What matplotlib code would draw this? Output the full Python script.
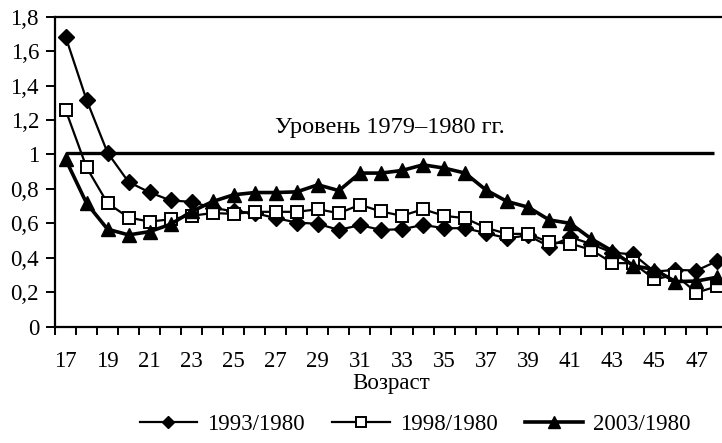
import matplotlib
matplotlib.use("Agg")
import matplotlib.pyplot as plt
from matplotlib.ticker import FuncFormatter, FixedLocator

ages = list(range(17, 49))
s1993 = [1.685, 1.317, 1.01, 0.84, 0.78, 0.733, 0.725, 0.69, 0.67, 0.66, 0.63, 0.605,
         0.597, 0.562, 0.59, 0.562, 0.566, 0.591, 0.572, 0.572, 0.543, 0.514, 0.53, 0.465,
         0.52, 0.48, 0.43, 0.42, 0.32, 0.33, 0.326, 0.382]
s1998 = [1.26, 0.925, 0.717, 0.634, 0.61, 0.624, 0.644, 0.66, 0.655, 0.667, 0.667, 0.667,
         0.682, 0.659, 0.708, 0.669, 0.644, 0.682, 0.644, 0.63, 0.574, 0.539, 0.539, 0.49,
         0.483, 0.446, 0.37, 0.368, 0.276, 0.30, 0.198, 0.235]
s2003 = [0.973, 0.717, 0.566, 0.533, 0.552, 0.595, 0.669, 0.727, 0.766, 0.779, 0.779, 0.783,
         0.824, 0.79, 0.892, 0.892, 0.907, 0.94, 0.921, 0.892, 0.793, 0.727, 0.694, 0.62,
         0.6, 0.51, 0.44, 0.354, 0.332, 0.262, 0.265, 0.288]
series_labels = ["1993/1980", "1998/1980", "2003/1980"]
level_value = 1.01
level_text = "Уровень 1979–1980 гг."
xlabel = "Возраст"
tick_ages = list(range(17, 48, 2))
yticks = [0, 0.2, 0.4, 0.6, 0.8, 1.0, 1.2, 1.4, 1.6, 1.8]

plt.rcParams['font.family'] = ['Liberation Serif', 'DejaVu Serif']
FS = 16.5

W, H = 722, 443
fig = plt.figure(figsize=(W / 100, H / 100), dpi=100)
left = 55 / W
right = 728 / W
bottom = (H - 326.7) / H
top = (H - 16.7) / H
ax = fig.add_axes([left, bottom, right - left, top - bottom])

ax.set_xlim(16.5, 48.5)
ax.set_ylim(0, 1.8)

# level line
ax.plot([17, 47.85], [level_value, level_value], color='black', lw=2.4, solid_capstyle='butt', zorder=2)
ax.text(32.4, 1.155, level_text, ha='center', va='center', fontsize=17.5)

l1, = ax.plot(ages, s1993, color='black', lw=1.6, marker='D', ms=8, mfc='black', mec='black', zorder=3)
l2, = ax.plot(ages, s1998, color='black', lw=1.6, marker='s', ms=9, mfc='white', mec='black', mew=1.4, zorder=4)
l3, = ax.plot(ages, s2003, color='black', lw=2.6, marker='^', ms=10, mfc='black', mec='black', zorder=5)

ax.spines['right'].set_visible(False)
for s in ['left', 'bottom', 'top']:
    ax.spines[s].set_linewidth(1.6)

ax.set_yticks(yticks)
ax.yaxis.set_major_formatter(FuncFormatter(lambda v, p: ('%g' % round(v, 1)).replace('.', ',')))
ax.tick_params(axis='y', direction='out', length=6.5, width=1.4, labelsize=FS, pad=5)

ax.xaxis.set_major_locator(FixedLocator([a + 0.5 for a in range(16, 49)]))
ax.xaxis.set_major_formatter(FuncFormatter(lambda v, p: ''))
ax.xaxis.set_minor_locator(FixedLocator(tick_ages))
ax.xaxis.set_minor_formatter(FuncFormatter(lambda v, p: '%d' % round(v)))
ax.tick_params(axis='x', which='major', direction='out', length=6, width=1.4)
ax.tick_params(axis='x', which='minor', length=0, labelsize=FS, pad=17.5)

ax.set_xlabel(xlabel, fontsize=FS, labelpad=1)

leg = fig.legend([l1, l2, l3], series_labels, loc='center', bbox_to_anchor=(415 / W, (H - 424) / H),
                 ncol=3, frameon=False, fontsize=FS, handlelength=2.5, columnspacing=1.2,
                 handletextpad=0.45, markerscale=0.8)

fig.savefig('out.png', dpi=100)
